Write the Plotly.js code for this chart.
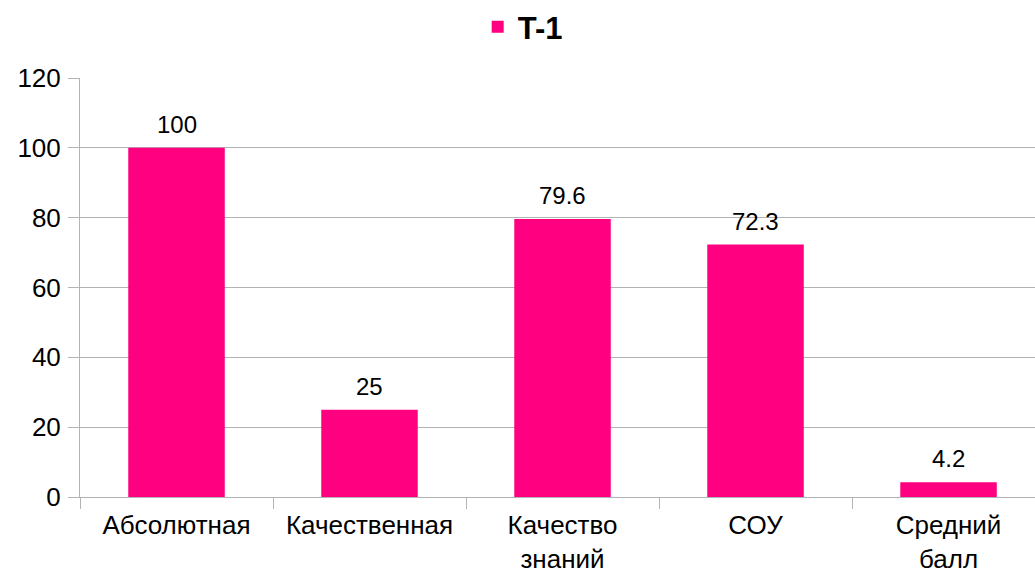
<!DOCTYPE html>
<html>
<head>
<meta charset="utf-8">
<script src="https://cdn.plot.ly/plotly-3.0.1.min.js"></script>
<style>
  html, body { margin: 0; padding: 0; background: #fff; }
  #plot { width: 1035px; height: 573px; }
</style>
</head>
<body>
<div id="plot"></div>
<script>
var categories = ["Абсолютная", "Качественная", "Качество<br>знаний", "СОУ", "Средний<br>балл"];
var values = [100, 25, 79.6, 72.3, 4.2];
var labels = ["100", "25", "79.6", "72.3", "4.2"];

var trace1 = {
  x: categories,
  y: values,
  name: "T-1",
  type: "bar",
  marker: { color: "#ff0080" },
  hoverinfo: "none"
};

// value labels above the bars
var notes = categories.map(function (c, i) {
  return {
    x: c,
    y: values[i],
    text: labels[i],
    showarrow: false,
    yanchor: "bottom",
    yshift: 8,
    font: { size: 24, color: "#000" }
  };
});

var layout = {
  width: 1035,
  height: 573,
  margin: { l: 80, r: 0, t: 78, b: 76 },
  font: { family: "Liberation Sans, Arial, sans-serif", size: 24, color: "#000" },
  paper_bgcolor: "#fff",
  plot_bgcolor: "#fff",
  bargap: 0.5,
  showlegend: true,
  annotations: notes,
  legend: {
    orientation: "h",
    x: 0.505,
    xanchor: "center",
    xref: "container",
    y: 1,
    yanchor: "top",
    yref: "container",
    font: { size: 31, weight: "bold" }
  },
  xaxis: {
    range: [-0.5, 4.448],
    showgrid: false,
    showline: true,
    linecolor: "#b3b3b3",
    ticks: "outside",
    tickson: "boundaries",
    ticklen: 11,
    tickcolor: "#b3b3b3",
    ticklabelstandoff: 5,
    tickfont: { size: 26 }
  },
  yaxis: {
    range: [0, 120],
    dtick: 20,
    showgrid: true,
    gridcolor: "#b3b3b3",
    showline: true,
    linecolor: "#b3b3b3",
    ticks: "outside",
    ticklen: 11,
    tickcolor: "#b3b3b3",
    ticklabelstandoff: 2,
    tickfont: { size: 26 },
    zeroline: false
  }
};

Plotly.newPlot("plot", [trace1], layout, { displayModeBar: false, staticPlot: true });
</script>
</body>
</html>
